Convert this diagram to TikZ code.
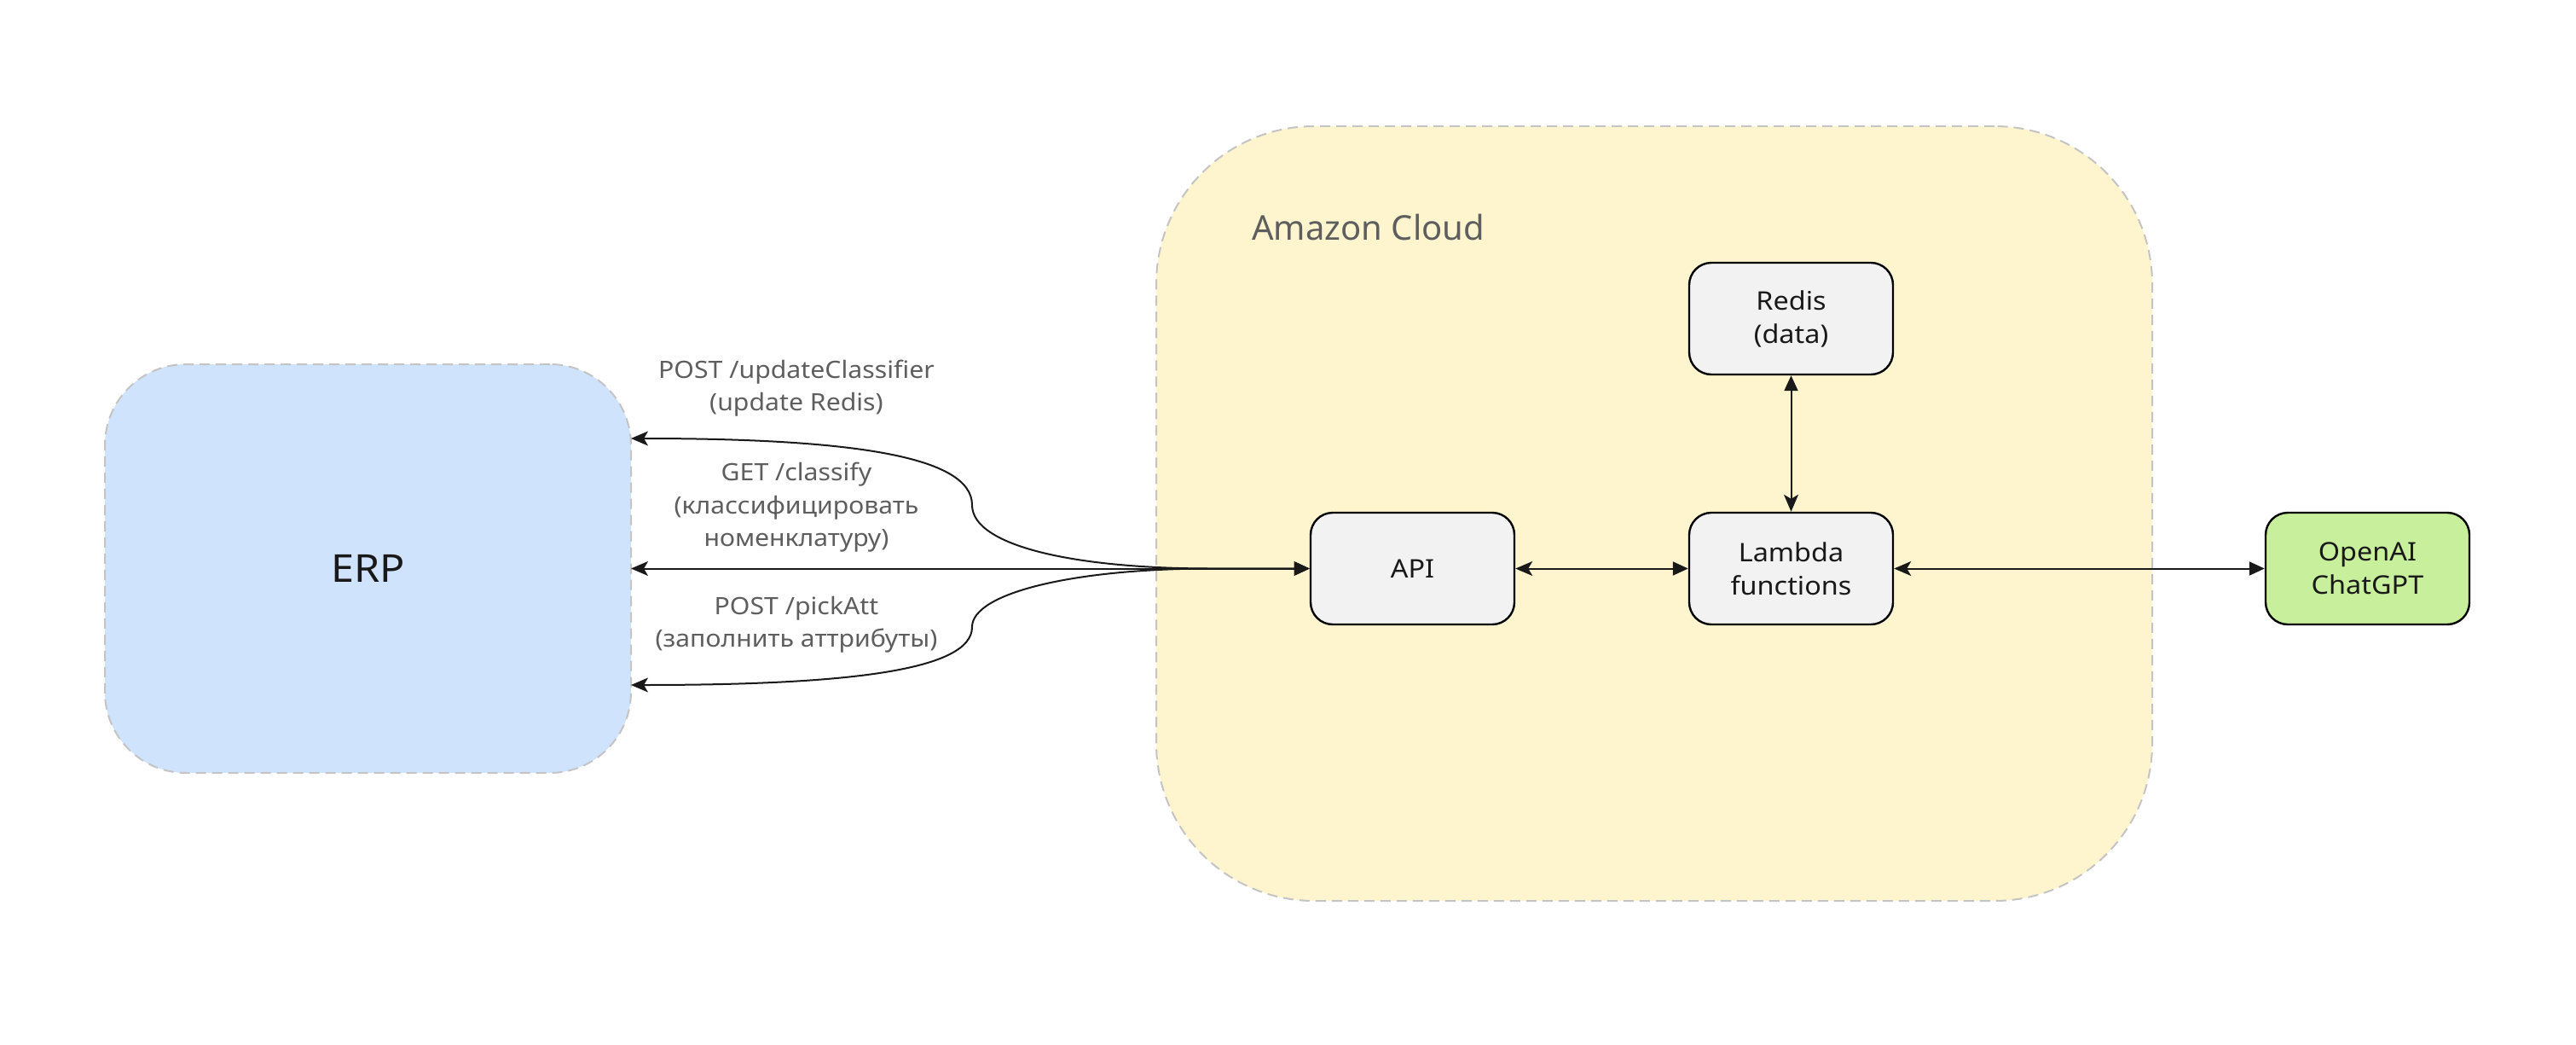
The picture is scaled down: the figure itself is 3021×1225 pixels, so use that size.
\documentclass[tikz,border=0pt]{standalone}
\usepackage{fontspec}
\setmainfont[FakeStretch=1.08]{Noto Sans}
\newfontfamily\plainfont{Noto Sans}
\usetikzlibrary{arrows.meta}
\definecolor{erpblue}{HTML}{CFE3FD}
\definecolor{cloudyellow}{HTML}{FEF5CF}
\definecolor{boxgray}{HTML}{F2F2F2}
\definecolor{aigreen}{HTML}{C8EF9C}
\definecolor{dashgray}{HTML}{C4C4C4}
\definecolor{labelgray}{HTML}{5E5E5E}
\begin{document}
\begin{tikzpicture}[x=1pt,y=-1pt,
  zone/.style={draw=dashgray, line width=2pt, dash pattern=on 12pt off 7pt, inner sep=0pt},
  box/.style={draw=black, line width=2.4pt, fill=boxgray, rounded corners=26pt,
    minimum width=239pt, minimum height=131pt, inner sep=0pt, align=center,
    font=\fontsize{30}{39}\selectfont, text=black!90},
  lbl/.style={align=center, text=labelgray, font=\fontsize{28}{38.5}\selectfont, inner sep=0pt},
  edge/.style={line width=2pt, draw=black!90,
    {Stealth[length=20pt,width=17pt,inset=5pt]}-{Triangle[length=18pt,width=16pt]}}
]
\useasboundingbox (0,0) rectangle (3021,1225);
\fill[white] (0,0) rectangle (3021,1225);

% zones
\node[zone, fill=erpblue, rounded corners=95pt, minimum width=617pt, minimum height=479pt]
  (erp) at (431.5,666.5) {};
\node[font=\fontsize{45}{54}\selectfont, text=black!90] (erptext) at (431.5,666.5) {ERP};
\node[zone, fill=cloudyellow, rounded corners=185pt, minimum width=1168pt, minimum height=908pt]
  (cloud) at (1940,602) {};
\node[anchor=base west, font=\plainfont\fontsize{40}{48}\selectfont, text=labelgray, inner sep=0pt]
  (cloudlbl) at (1468,281) {Amazon Cloud};

% boxes
\node[box] (redis) at (2100.5,373.5) {Redis\\(data)};
\node[box] (api) at (1656.5,666.5) {API};
\node[box] (lambda) at (2100.5,666.5) {Lambda\\functions};
\node[box, fill=aigreen] (openai) at (2776.5,666.5) {OpenAI\\ChatGPT};

% ERP endpoints
\coordinate (t1) at (740,514);
\coordinate (t2) at (740,666.5);
\coordinate (t3) at (740,803);
\coordinate (m1) at (1140,592);
\coordinate (m3) at (1140,735);
\coordinate (j) at (1420,666.5);

\draw[edge] (t1) .. controls (1000,514) and (1140,535) .. (m1)
  .. controls (1140,640) and (1260,666.5) .. (j) -- (api.west);
\draw[edge] (t2) -- (api.west);
\draw[edge] (t3) .. controls (1000,803) and (1140,785) .. (m3)
  .. controls (1140,695) and (1260,666.5) .. (j) -- (api.west);

\draw[edge] (api.east) -- (lambda.west);
\draw[edge] (lambda.east) -- (openai.west);
\draw[edge] (lambda.north) -- (redis.south);

% labels
\node[lbl] (l1) at (934,455) {POST /updateClassifier\\(update Redis)};
\node[lbl] (l2) at (934,595) {GET /classify\\(классифицировать\\номенклатуру)};
\node[lbl] (l3) at (934,732) {POST /pickAtt\\(заполнить аттрибуты)};
\end{tikzpicture}
\end{document}
